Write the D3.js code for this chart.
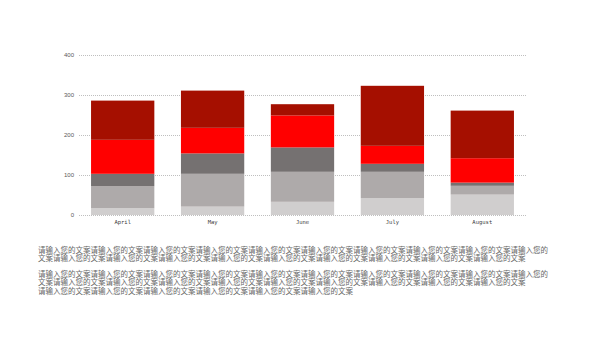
<!DOCTYPE html>
<html>
<head>
<meta charset="utf-8">
<script src="https://cdn.jsdelivr.net/npm/d3@7"></script>
<style>
html,body{margin:0;padding:0;background:#fff;}
svg{display:block;}
</style>
</head>
<body>
<svg id="chart" width="600" height="338"></svg>
<script>
const categories = ["April", "May", "June", "July", "August"];
const series1 = [17, 21, 33, 42, 51];
const series2 = [55, 82, 75, 66, 22];
const series3 = [31, 51, 61, 20, 8];
const series4 = [85, 64, 80, 45, 61];
const series5 = [98, 93, 28, 150, 119];
const seriesNames = ["s1", "s2", "s3", "s4", "s5"];
const seriesColors = ["#D0CECE", "#AEAAAA", "#757171", "#FF0000", "#A50F00"];
const yTicks = [0, 100, 200, 300, 400];

const g = "请输入您的文案";
const textLines = [
  [g.repeat(9) + "请输入您的", "文案" + g.repeat(9)],
  [g.repeat(9) + "请输入您的", "文案" + g.repeat(9), g.repeat(6)]
];

const svg = d3.select("#chart");
const plotLeft = 79, plotRight = 526, plotTop = 55, plotBottom = 215;

const x = d3.scaleBand().domain(categories).range([plotLeft, plotRight]).paddingInner(0.296).paddingOuter(0.134);
const y = d3.scaleLinear().domain([0, 400]).range([plotBottom, plotTop]);

const all = [series1, series2, series3, series4, series5];
const table = categories.map((c, i) => {
  const o = {cat: c};
  seriesNames.forEach((n, k) => o[n] = all[k][i]);
  return o;
});
const stacked = d3.stack().keys(seriesNames)(table);

// gridlines
svg.append("g").selectAll("line").data(yTicks).join("line")
  .attr("x1", plotLeft).attr("x2", plotRight)
  .attr("y1", d => y(d) + 0.5).attr("y2", d => y(d) + 0.5)
  .attr("stroke", "#bfbfbf").attr("stroke-width", 1).attr("stroke-dasharray", "1,1");

// y labels
svg.append("g").selectAll("text").data(yTicks).join("text")
  .attr("x", 74).attr("y", d => y(d)).attr("dy", "0.35em")
  .attr("text-anchor", "end")
  .attr("font-family", "Liberation Sans, Arial, sans-serif")
  .attr("font-size", 6).attr("fill", "#595959")
  .text(d => d);

// bars
svg.append("g").selectAll("g").data(stacked).join("g")
  .attr("fill", (d, i) => seriesColors[i])
  .selectAll("rect").data(d => d).join("rect")
  .attr("x", d => x(d.data.cat))
  .attr("width", x.bandwidth())
  .attr("y", d => y(d[1]))
  .attr("height", d => y(d[0]) - y(d[1]));

// x labels
svg.append("g").selectAll("text").data(categories).join("text")
  .attr("x", d => x(d) + x.bandwidth() / 2).attr("y", 224)
  .attr("text-anchor", "middle")
  .attr("font-family", "DejaVu Sans Mono, monospace")
  .attr("font-size", 5.5).attr("fill", "#404040")
  .text(d => d);

// paragraphs
const lineYs = [[252.5, 261], [276.5, 285, 293.5]];
textLines.forEach((para, p) => {
  para.forEach((t, l) => {
    svg.append("text")
      .attr("x", 38).attr("y", lineYs[p][l])
      .attr("font-family", "Noto Sans CJK SC")
      .attr("font-size", 7.5).attr("fill", "#666666")
      .text(t);
  });
});
</script>
</body>
</html>
